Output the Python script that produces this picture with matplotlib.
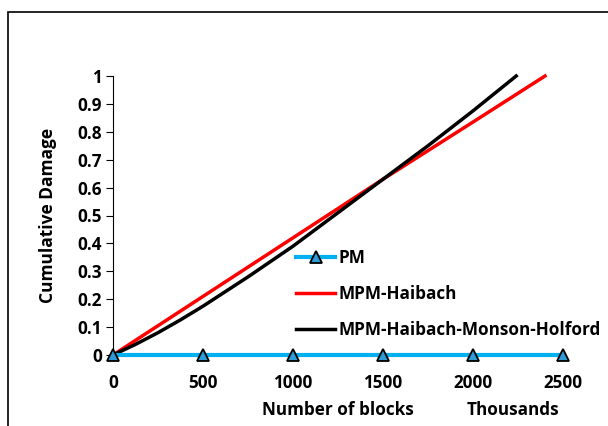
import numpy as np
import matplotlib.pyplot as plt
from matplotlib.patches import Rectangle

plt.rcParams['font.family'] = ['Open Sans', 'DejaVu Sans']
plt.rcParams['font.weight'] = 'bold'

# block counts in thousands
blocks_pm = [0, 500, 1000, 1500, 2000, 2500]
damage_pm = [0, 0, 0, 0, 0, 0]

blocks_h = [0, 500, 1000, 1500, 2000, 2400]
damage_h = [0, 0.21, 0.42, 0.63, 0.835, 1.0]

blocks_hmh = [0, 125, 250, 375, 500, 750, 1000, 1250, 1500, 1750, 2000, 2240]
damage_hmh = [0, 0.038, 0.08, 0.126, 0.175, 0.28, 0.39, 0.51, 0.63, 0.75, 0.875, 1.0]

fig = plt.figure(figsize=(6.08, 4.26), dpi=100)
ax = fig.add_axes([113/608, 1-355/426, 450/608, 279/426])

ax.plot(blocks_pm, damage_pm, color='#00B0F0', lw=3, marker='^', ms=8,
        mfc='#2E9BD6', mec='black', mew=1.3, label='PM', clip_on=False, zorder=3)
ax.plot(blocks_h, damage_h, color='#FF0000', lw=2.5, label='MPM-Haibach', clip_on=False)
ax.plot(blocks_hmh, damage_hmh, color='black', lw=2.5, label='MPM-Haibach-Monson-Holford', clip_on=False)

ax.set_xlim(0, 2500)
ax.set_ylim(0, 1)
ax.set_yticks(np.arange(0, 1.01, 0.1))
ax.set_yticklabels(['0', '0.1', '0.2', '0.3', '0.4', '0.5', '0.6', '0.7', '0.8', '0.9', '1'])
ax.set_xticks([0, 500, 1000, 1500, 2000, 2500])
ax.tick_params(axis='x', length=0, pad=14, labelsize=12.3)
ax.tick_params(axis='y', length=5, pad=3, labelsize=12.3)
ax.spines['top'].set_visible(False)
ax.spines['right'].set_visible(False)
ax.spines['bottom'].set_visible(False)

fig.text(48/608, 1-215/426, 'Cumulative Damage', rotation=90, ha='center', va='center',
         fontsize=12.5, fontweight='bold')
fig.text(338/608, 1-410/426, 'Number of blocks', ha='center', va='center', fontsize=12.3, fontweight='bold')
fig.text(513/608, 1-410/426, 'Thousands', ha='center', va='center', fontsize=12.3, fontweight='bold')

ax.legend(loc='upper left', bbox_to_anchor=(296/608, 1-249/426), bbox_transform=fig.transFigure,
          frameon=False, fontsize=12.3, handlelength=2.3, handletextpad=0.2, labelspacing=1.05,
          borderpad=0, borderaxespad=0)

fig.patches.append(Rectangle((8/608, -0.1), 1.2, 1.1 - 12/426, transform=fig.transFigure,
                             fill=False, ec='black', lw=1.2))

plt.savefig('out.png', dpi=100)
